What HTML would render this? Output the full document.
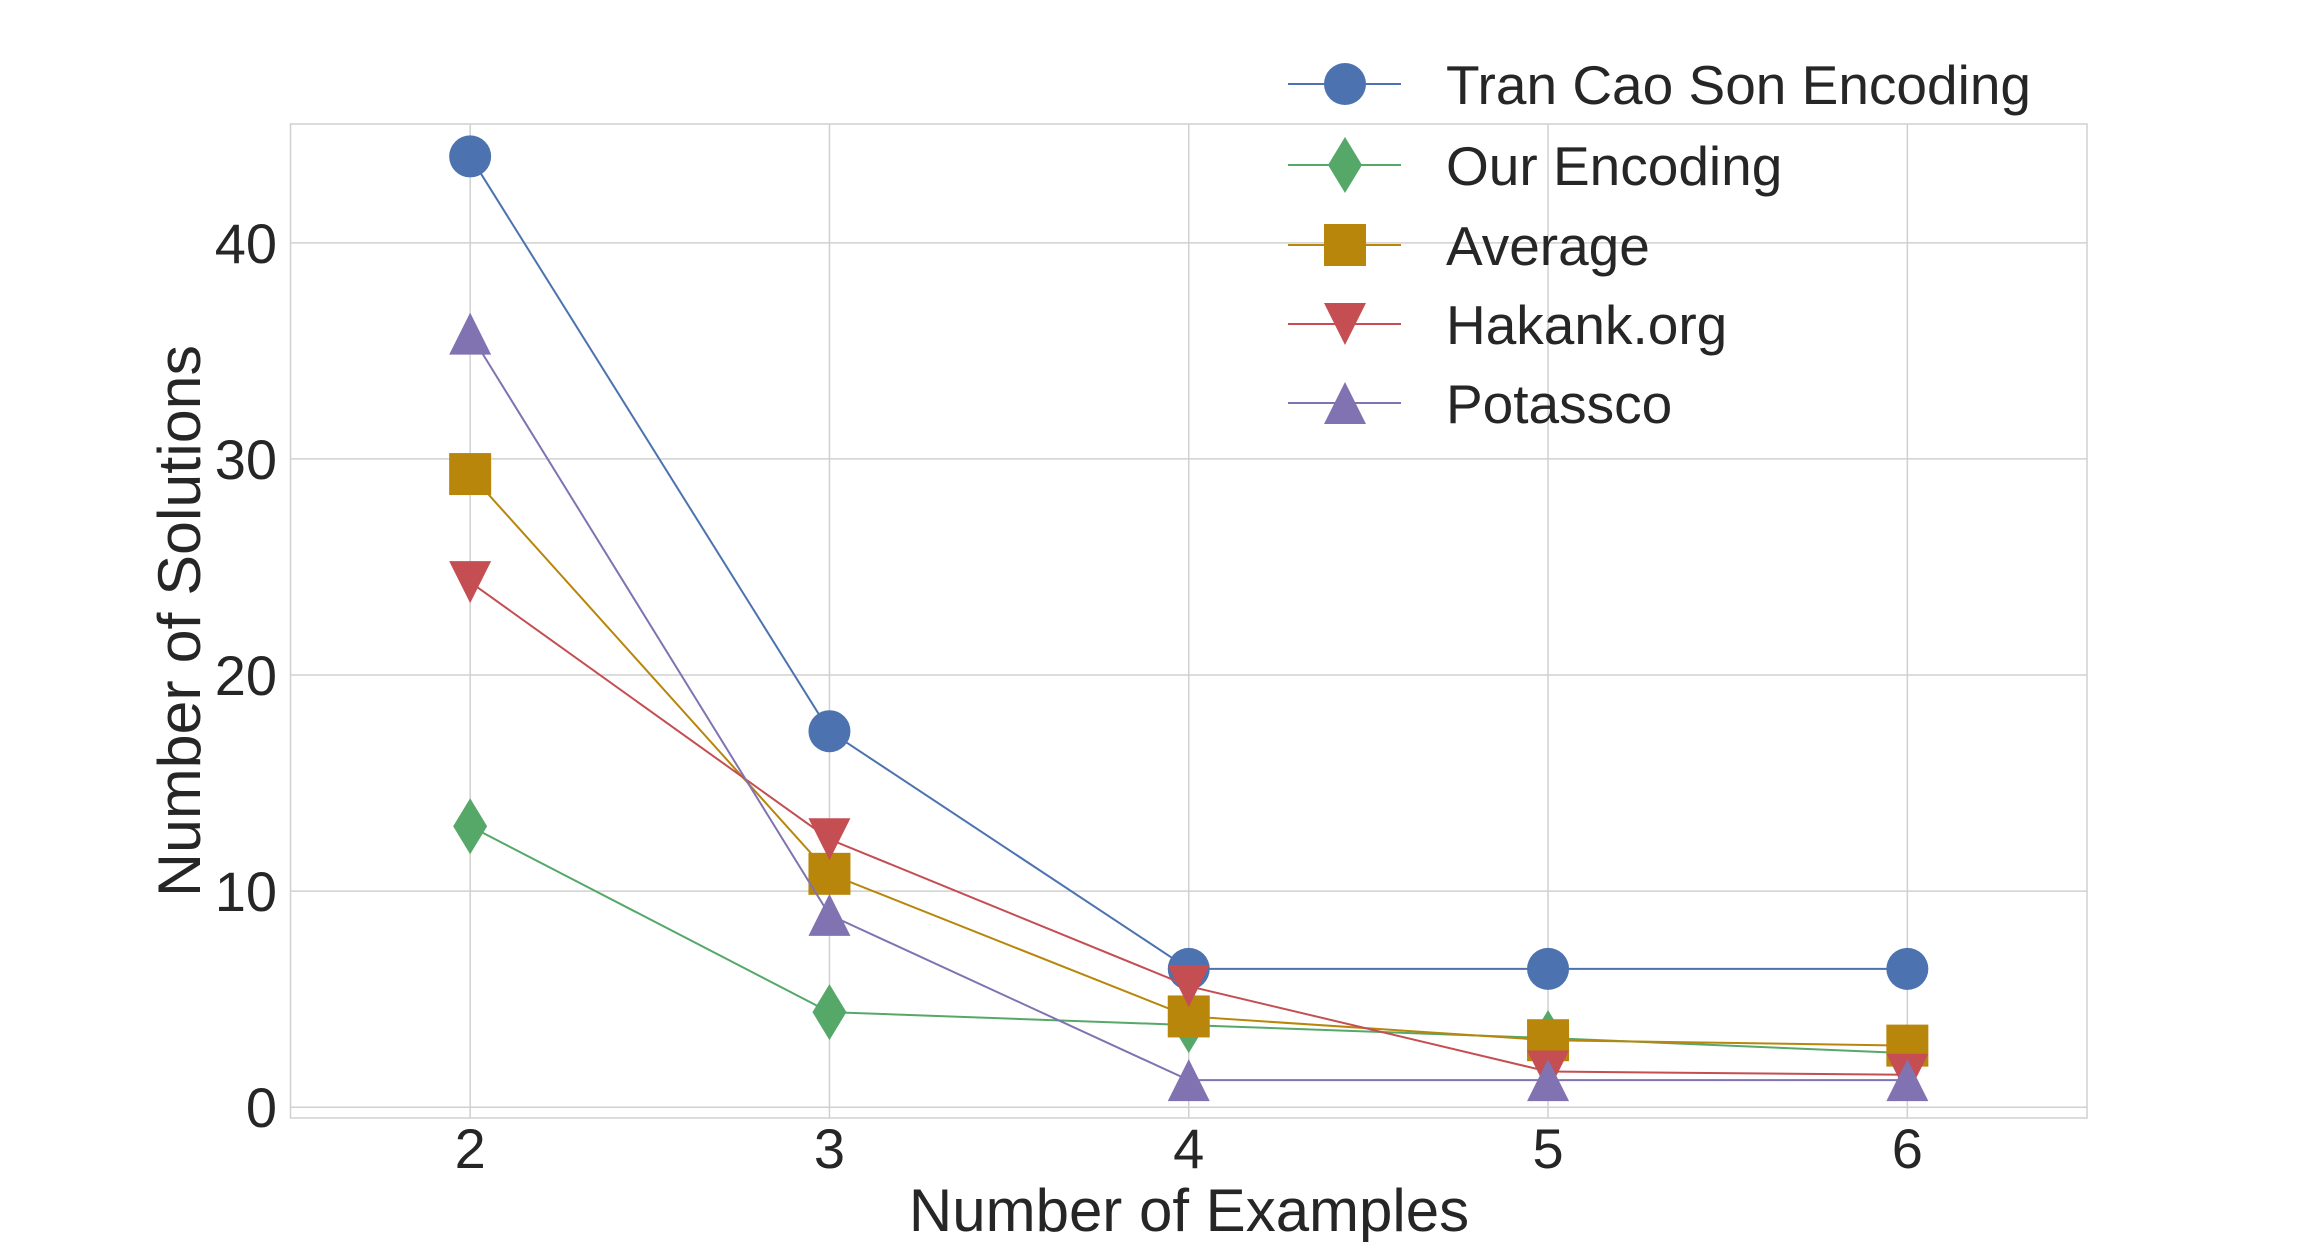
<!DOCTYPE html>
<html><head><meta charset="utf-8"><style>
html,body{margin:0;padding:0;background:#fff;}
svg{display:block;font-family:"Liberation Sans",Arial,sans-serif;}
</style></head><body>
<svg id="chart" width="2318" height="1242" viewBox="0 0 2318 1242" xmlns="http://www.w3.org/2000/svg">
<rect x="290.5" y="124" width="1796.5" height="994" fill="#fff" stroke="#d0d0d0" stroke-width="1.5"/>
<g id="grid"></g>
<g id="series"></g>
<g id="ticks"></g>
<text x="1189" y="1231" font-size="60" fill="#262626" text-anchor="middle">Number of Examples</text>
<text transform="translate(200,621) rotate(-90)" font-size="60" fill="#262626" text-anchor="middle" textLength="552" lengthAdjust="spacingAndGlyphs">Number of Solutions</text>
<g id="legend"></g>
</svg>
<script>
const categories = [2, 3, 4, 5, 6];
const seriesNames = ["Tran Cao Son Encoding", "Our Encoding", "Average", "Hakank.org", "Potassco"];
const tranCaoSon = [44, 17.4, 6.4, 6.4, 6.4];
const ourEncoding = [13, 4.4, 3.8, 3.2, 2.5];
const average = [29.3, 10.8, 4.2, 3.1, 2.85];
const hakank = [24.3, 12.4, 5.6, 1.65, 1.5];
const potassco = [35.8, 8.9, 1.25, 1.25, 1.25];
const yTicks = [0, 10, 20, 30, 40];
const xTicks = [2, 3, 4, 5, 6];

const NS = "http://www.w3.org/2000/svg";
const L = 290.5, R = 2087, T = 124, B = 1118;
const xMin = 1.5, xMax = 6.5, yMin = -0.5, yMax = 45.5;
function xs(v){ return L + (v - xMin) / (xMax - xMin) * (R - L); }
function ys(v){ return B - (v - yMin) / (yMax - yMin) * (B - T); }
function mk(tag, attrs, parent){ const e = document.createElementNS(NS, tag); for (const k in attrs) e.setAttribute(k, attrs[k]); parent.appendChild(e); return e; }

const grid = document.getElementById('grid');
const ticks = document.getElementById('ticks');
yTicks.forEach(v => {
  const g = mk('line', {x1: L, x2: R, y1: ys(v), y2: ys(v), stroke: '#d0d0d0', 'stroke-width': 1.5}, grid);
  
  
  const t = mk('text', {x: 277, y: ys(v) + 20, 'font-size': 56, fill: '#262626', 'text-anchor': 'end'}, ticks);
  t.textContent = v;
  
  
});
xTicks.forEach(v => {
  const g = mk('line', {x1: xs(v), x2: xs(v), y1: T, y2: B, stroke: '#d0d0d0', 'stroke-width': 1.5}, grid);
  
  
  const t = mk('text', {x: xs(v), y: 1168, 'font-size': 56, fill: '#262626', 'text-anchor': 'middle'}, ticks);
  t.textContent = v;
  
  
});

const colors = ['#4c72b0', '#55a868', '#b8860b', '#c44e52', '#8172b2'];
const shapes = ['circle', 'diamond', 'square', 'tridown', 'triup'];
const allData = [tranCaoSon, ourEncoding, average, hakank, potassco];

function marker(shape, cx, cy, color, parent){
  let e;
  if (shape === 'circle') e = mk('ellipse', {cx: cx, cy: cy, rx: 21, ry: 21, fill: color}, parent);
  else if (shape === 'square') e = mk('rect', {x: cx - 21, y: cy - 21, width: 42, height: 42, fill: color}, parent);
  else if (shape === 'diamond') e = mk('polygon', {points: `${cx},${cy-28} ${cx+17},${cy} ${cx},${cy+28} ${cx-17},${cy}`, fill: color}, parent);
  else if (shape === 'tridown') e = mk('polygon', {points: `${cx-21},${cy-21} ${cx+21},${cy-21} ${cx},${cy+21}`, fill: color}, parent);
  else e = mk('polygon', {points: `${cx-21},${cy+21} ${cx+21},${cy+21} ${cx},${cy-21}`, fill: color}, parent);
  return e;
}

const sg = document.getElementById('series');
allData.forEach((data, i) => {
  const g = mk('g', {}, sg);
  
  
  const pts = data.map((v, j) => xs(categories[j]) + ',' + ys(v)).join(' ');
  const pl = mk('polyline', {points: pts, fill: 'none', stroke: colors[i], 'stroke-width': 2}, g);
  
  
  data.forEach((v, j) => {
    const m = marker(shapes[i], xs(categories[j]), ys(v), colors[i], g);
    
    
  });
});

const lg = document.getElementById('legend');
const rowY = [84, 165, 245, 324, 403];
seriesNames.forEach((n, i) => {
  const g = mk('g', {}, lg);
  
  
  mk('line', {x1: 1288, x2: 1401, y1: rowY[i], y2: rowY[i], stroke: colors[i], 'stroke-width': 2}, g);
  marker(shapes[i], 1345, rowY[i], colors[i], g);
  const t = mk('text', {x: 1446, y: rowY[i] + 20, 'font-size': 55, fill: '#262626'}, g);
  t.textContent = n;
  
  
});
</script>
</body></html>
